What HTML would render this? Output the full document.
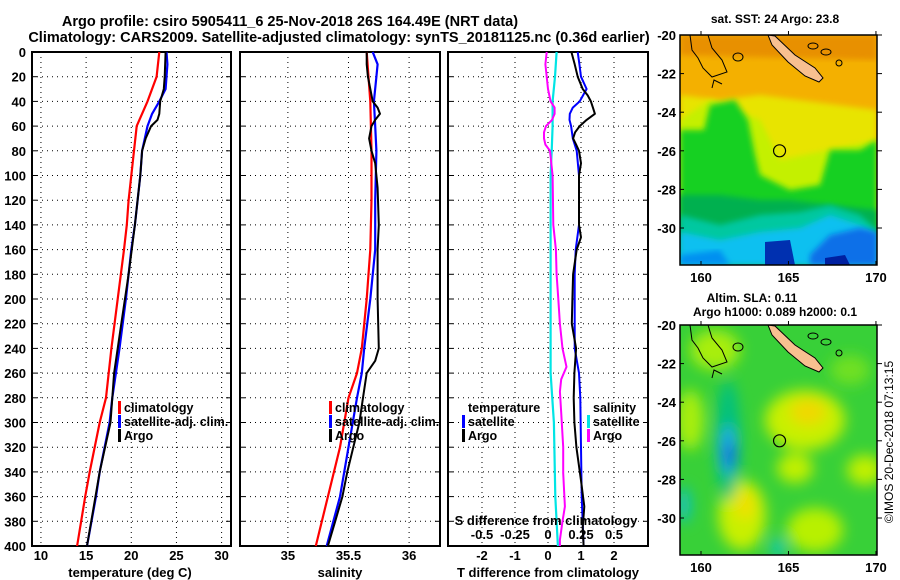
<!DOCTYPE html>
<html><head><meta charset="utf-8">
<style>
html,body{margin:0;padding:0;background:#fff;}
svg{display:block;font-family:"Liberation Sans",sans-serif;font-weight:bold;}
</style></head>
<body>
<svg id="fig" width="900" height="580" viewBox="0 0 900 580" xmlns="http://www.w3.org/2000/svg">
<defs>
<filter id="blur" x="-10%" y="-10%" width="120%" height="120%"><feGaussianBlur stdDeviation="7"/></filter>
<filter id="blur2"><feGaussianBlur stdDeviation="3"/></filter>
<clipPath id="clipTop"><rect x="680" y="35" width="197" height="230"/></clipPath>
<clipPath id="clipBot"><rect x="680" y="325" width="197" height="230"/></clipPath>
</defs>
<text x="290" y="26" font-size="14.5" text-anchor="middle">Argo profile: csiro 5905411_6 25-Nov-2018 26S 164.49E (NRT data)</text>
<text x="339" y="42" font-size="14.5" text-anchor="middle">Climatology: CARS2009. Satellite-adjusted climatology: synTS_20181125.nc (0.36d earlier)</text>
<g id="charts"></g>
<g id="maps"></g>
</svg>
<script>
// ---- data ----
const depthTicks = [0,20,40,60,80,100,120,140,160,180,200,220,240,260,280,300,320,340,360,380,400];
const tempTicks = [10,15,20,25,30];
const salTicks = [35,35.5,36];
const salTickLabels = ["35","35.5","36"];
const tdiffTicks = [-2,-1,0,1,2];
const sdiffTicks = [-0.5,-0.25,0,0.25,0.5];
const sdiffTickLabels = ["-0.5","-0.25","0","0.25","0.5"];

const tempClimDepth = [0,20,40,60,80,100,120,140,160,200,240,280,300,340,360,400];
const tempClim = [23.1,22.8,21.8,20.6,20.3,20.0,19.7,19.5,19.2,18.5,17.8,17.2,16.5,15.4,14.9,14.0];
const tempSatDepth = [0,10,30,40,50,60,80,100,120,140,160,200,240,280,300,340,360,400];
const tempSat = [23.9,24.0,23.8,23.1,22.3,21.8,21.2,21.0,20.7,20.4,20.0,19.4,18.7,17.9,17.6,16.5,16.1,15.1];
const tempArgoDepth = [0,20,30,40,50,55,60,70,80,100,140,180,220,260,300,340,400];
const tempArgo = [23.8,23.7,23.6,23.2,23.1,22.9,22.2,21.6,21.2,21.0,20.4,19.7,18.9,18.1,17.7,16.5,15.1];

const salClimDepth = [0,40,80,120,160,200,240,260,280,320,360,400];
const salClim = [35.65,35.68,35.69,35.69,35.68,35.65,35.61,35.57,35.50,35.43,35.33,35.23];
const salSatDepth = [0,10,20,40,60,80,120,160,200,240,260,280,320,360,400];
const salSat = [35.70,35.74,35.73,35.71,35.72,35.73,35.72,35.72,35.68,35.63,35.61,35.57,35.50,35.43,35.32];
const salArgoDepth = [0,10,20,30,40,45,50,55,60,70,80,90,110,140,160,200,240,250,260,280,300,320,340,360,380,400];
const salArgo = [35.65,35.65,35.66,35.68,35.70,35.74,35.76,35.72,35.69,35.67,35.69,35.72,35.74,35.75,35.74,35.74,35.75,35.72,35.65,35.62,35.59,35.54,35.49,35.45,35.39,35.33];

const tdSatDepth = [0,10,20,30,40,45,50,55,60,70,80,100,140,160,180,200,240,260,280,320,360,400];
const tdSat = [0.9,0.95,1.0,1.17,0.96,0.75,0.66,0.65,0.7,0.75,0.87,0.94,0.94,0.84,0.81,0.81,0.81,0.94,0.98,1.0,1.02,1.08];
const tdArgoDepth = [0,10,20,30,35,40,45,50,55,60,65,70,75,80,90,100,140,150,160,180,200,220,240,260,280,300,320,347,368,385,400];
const tdArgo = [0.71,0.81,0.9,1.05,1.2,1.3,1.36,1.42,1.17,0.96,0.82,0.76,0.85,0.94,1.0,0.94,0.94,1.0,0.87,0.76,0.74,0.72,0.85,0.8,0.78,0.8,0.86,1.0,1.1,1.05,1.08];
const sdSatDepth = [0,20,40,60,80,100,260,300,360,400];
const sdSat = [0.065,0.053,0.035,0.035,0.028,0.02,0.02,0.045,0.055,0.075];
const sdArgoDepth = [0,10,20,30,40,45,50,55,60,65,70,75,80,100,140,160,180,200,220,240,255,265,275,292,320,341,368,380,395,400];
const sdArgo = [-0.01,-0.02,-0.01,0,0.02,0.05,0.05,0.03,-0.015,-0.03,-0.03,-0.02,0.015,0.035,0.04,0.06,0.065,0.078,0.09,0.11,0.14,0.1,0.09,0.1,0.115,0.115,0.128,0.11,0.09,0.09];

// ---- layout ----
const NS = "http://www.w3.org/2000/svg";
const top0 = 52, bot0 = 546;
function yScale(d){ return top0 + d/400*(bot0-top0); }
function lin(d0,d1,r0,r1){ return v => r0 + (v-d0)/(d1-d0)*(r1-r0); }
const xTemp = lin(9.01,31.04,32,231);
const xSal = lin(34.605,36.255,240,440);
const xTd = lin(-3.03,3.03,448,648);
const xSd = lin(-0.7575,0.7575,448,648);
const charts = document.getElementById('charts');
function mk(tag, attrs, parent){
  const e = document.createElementNS(NS, tag);
  for (const k in attrs) e.setAttribute(k, attrs[k]);
  (parent||charts).appendChild(e);
  return e;
}
function txt(s, x, y, size, anchor, name){
  const t = mk('text', {x:x, y:y, 'font-size':size, 'text-anchor':anchor||'middle'});
  t.textContent = s;
  
  
  return t;
}
function panel(x0,x1,xTicks,xs,name){
  const g = mk('g',{});
  
  
  depthTicks.forEach(d=>{ if(d>0&&d<400){ const l=mk('line',{x1:x0,x2:x1,y1:yScale(d),y2:yScale(d),stroke:'#000','stroke-width':1,'stroke-dasharray':'1,4'},g);
     
    mk('line',{x1:x0,x2:x0+5,y1:yScale(d),y2:yScale(d),stroke:'#000'},g); mk('line',{x1:x1-5,x2:x1,y1:yScale(d),y2:yScale(d),stroke:'#000'},g);} });
  xTicks.forEach(v=>{ const l=mk('line',{x1:xs(v),x2:xs(v),y1:top0,y2:bot0,stroke:'#000','stroke-width':1,'stroke-dasharray':'1,4'},g);
      });
  const r = mk('rect',{x:x0,y:top0,width:x1-x0,height:bot0-top0,fill:'none',stroke:'#000','stroke-width':2},g);
   
  return g;
}
function line(depths, vals, xs, color, w, name){
  const pts = depths.map((d,i)=> xs(vals[i]).toFixed(1)+','+yScale(d).toFixed(1)).join(' ');
  const p = mk('polyline',{points:pts,fill:'none',stroke:color,'stroke-width':w,'stroke-linejoin':'round'});
  
  
}
function legendItem(x,y,color,label,name,barLeft){
  const b = mk('rect',{x:barLeft?x:x-6,y:y-11,width:3,height:13,fill:color});
  
  
  txt(label, barLeft?x+6:x, y, 12.5, 'start', name);
}

// Panel 1 temperature
panel(32,231,tempTicks,xTemp,'temperature-panel');
depthTicks.forEach(d=> txt(String(d), 26, yScale(d)+5, 13, 'end', 'y-tick-label'));
tempTicks.forEach(v=> txt(String(v), xTemp(v), 560, 13, 'middle', 'temp-x-tick-label'));
txt('temperature (deg C)', 130, 577, 13, 'middle', 'temp-x-axis-title');
line(tempClimDepth,tempClim,xTemp,'#ff0000',2.2,'temp-climatology-line');
line(tempSatDepth,tempSat,xTemp,'#0000ff',2.2,'temp-satellite-line');
line(tempArgoDepth,tempArgo,xTemp,'#000000',2,'temp-argo-line');
legendItem(124,412,'#ff0000','climatology','legend-climatology');
legendItem(124,426,'#0000ff','satellite-adj. clim.','legend-satellite-adj');
legendItem(124,440,'#000000','Argo','legend-argo');

// Panel 2 salinity
panel(240,440,salTicks,xSal,'salinity-panel');
salTicks.forEach((v,i)=> txt(salTickLabels[i], xSal(v), 560, 13, 'middle', 'sal-x-tick-label'));
txt('salinity', 340, 577, 13, 'middle', 'sal-x-axis-title');
line(salClimDepth,salClim,xSal,'#ff0000',2.2,'sal-climatology-line');
line(salSatDepth,salSat,xSal,'#0000ff',2.2,'sal-satellite-line');
line(salArgoDepth,salArgo,xSal,'#000000',2,'sal-argo-line');
legendItem(335,412,'#ff0000','climatology','legend2-climatology');
legendItem(335,426,'#0000ff','satellite-adj. clim.','legend2-satellite-adj');
legendItem(335,440,'#000000','Argo','legend2-argo');

// Panel 3 differences
panel(448,648,tdiffTicks,xTd,'difference-panel');
tdiffTicks.forEach(v=> txt(String(v), xTd(v), 560, 13, 'middle', 't-diff-tick-label'));
txt('T difference from climatology', 548, 577, 13, 'middle', 't-diff-axis-title');
line(sdSatDepth,sdSat,xSd,'#00e5e5',2.2,'s-diff-satellite-line');
line(sdArgoDepth,sdArgo,xSd,'#ff00ff',2,'s-diff-argo-line');
line(tdSatDepth,tdSat,xTd,'#0000ff',2,'t-diff-satellite-line');
line(tdArgoDepth,tdArgo,xTd,'#000000',2,'t-diff-argo-line');
txt('temperature', 468, 412, 12.5, 'start', 'legend3-temperature-heading');
legendItem(468,426,'#0000ff','satellite','legend3-t-satellite');
legendItem(468,440,'#000000','Argo','legend3-t-argo');
txt('salinity', 593, 412, 12.5, 'start', 'legend3-salinity-heading');
legendItem(587,426,'#00e5e5','satellite','legend3-s-satellite',true);
legendItem(587,440,'#ff00ff','Argo','legend3-s-argo',true);
txt('S difference from climatology', 546, 525, 13, 'middle', 's-diff-axis-title');
sdiffTicks.forEach((v,i)=> txt(sdiffTickLabels[i], xSd(v), 539, 13, 'middle', 's-diff-tick-label'));

// ---- maps ----
const maps = document.getElementById('maps');
const lonTicks = [160,165,170];
const latTicks = [-20,-22,-24,-26,-28,-30];
const mLon = lin(158.8,170.06,680,877);
function mapFrame(y0, name){
  const yLat = lat => y0 + (-20-lat)*19.3;
  latTicks.forEach(l=>{ txt(String(l), 676, yLat(l)+5, 13, 'end', name+'-lat-label');
    mk('line',{x1:877,x2:882,y1:yLat(l),y2:yLat(l),stroke:'#000'},maps);
    mk('line',{x1:680,x2:684,y1:yLat(l),y2:yLat(l),stroke:'#000'},maps); });
  lonTicks.forEach(l=>{ txt(String(l), mLon(l), y0+247, 13, 'middle', name+'-lon-label');
    mk('line',{x1:mLon(l),x2:mLon(l),y1:y0-4,y2:y0,stroke:'#000'},maps);
    mk('line',{x1:mLon(l),x2:mLon(l),y1:y0+230,y2:y0+226,stroke:'#000'},maps); });
  const r = mk('rect',{x:680,y:y0,width:197,height:230,fill:'none',stroke:'#000','stroke-width':1.5},maps);
   
}
function blob(g, pts, fill, filt){ const p=mk('polygon',{points:pts,fill:fill},g); if(filt) p.setAttribute('filter',filt); return p; }
function ellipse(g,cx,cy,rx,ry,fill){ return mk('ellipse',{cx:cx,cy:cy,rx:rx,ry:ry,fill:fill},g); }
function island(g, dy){
  const p = mk('polygon',{points:`768,${35+dy} 775,${36+dy} 795,${55+dy} 815,${68+dy} 823,${78+dy} 819,${82+dy} 805,${76+dy} 788,${62+dy} 772,${45+dy}`,fill:'#f8c090',stroke:'#000','stroke-width':1},g);
   
  mk('polyline',{points:`708,${35+dy} 712,${48+dy} 722,${60+dy} 727,${72+dy} 712,${77+dy} 703,${68+dy} 698,${58+dy} 692,${50+dy} 690,${35+dy}`,fill:'none',stroke:'#000','stroke-width':1},g);
  mk('polyline',{points:`712,${88+dy} 714,${80+dy} 722,${84+dy}`,fill:'none',stroke:'#000','stroke-width':1},g);
  mk('ellipse',{cx:738,cy:57+dy,rx:5,ry:4,fill:'none',stroke:'#000'},g);
  mk('ellipse',{cx:813,cy:46+dy,rx:5,ry:3,fill:'none',stroke:'#000'},g);
  mk('ellipse',{cx:826,cy:52+dy,rx:5,ry:3,fill:'none',stroke:'#000'},g);
  mk('ellipse',{cx:839,cy:63+dy,rx:3,ry:3,fill:'none',stroke:'#000'},g);
}
// SST map
const gT = mk('g',{'clip-path':'url(#clipTop)'},maps);
 
mk('rect',{x:680,y:35,width:197,height:230,fill:'#f4b000'},gT);
blob(gT,'680,35 877,35 877,60 680,55','#e89000','url(#blur2)');
blob(gT,'680,95 720,100 760,95 877,110 877,265 680,265','#e8e400','url(#blur2)');
blob(gT,'680,120 710,100 760,120 780,160 877,140 877,265 680,265','#c4f000','url(#blur2)');
blob(gT,'680,130 704,130 710,105 735,100 748,120 755,155 760,175 790,190 820,185 830,150 860,150 877,140 877,265 680,265','#18d020','url(#blur2)');
blob(gT,'680,195 720,195 760,200 790,200 830,205 877,210 877,265 680,265','#00b050','url(#blur2)');
blob(gT,'680,215 720,225 760,215 800,212 830,205 860,215 877,230 877,265 680,265','#00c8a0','url(#blur2)');
blob(gT,'680,232 720,240 760,232 800,228 830,215 860,225 877,235 877,265 680,265','#10c0f0','url(#blur2)');
blob(gT,'810,255 830,235 860,228 877,232 877,265 810,265','#1070e8','url(#blur2)');
blob(gT,'765,242 790,240 795,265 765,265','#0030b0',null);
blob(gT,'825,258 845,255 850,265 825,265','#0020a0',null);
blob(gT,'680,255 720,250 730,265 680,265','#0090f0','url(#blur2)');
island(gT,0);
const c1 = mk('circle',{cx:mLon(164.49),cy:35+6*19.3,r:6,fill:'none',stroke:'#000','stroke-width':1.2},maps);
 
mapFrame(35,'sst-map');
txt('sat. SST: 24 Argo: 23.8', 775, 23, 12, 'middle', 'sst-map-title');

// SLA map
const gS = mk('g',{'clip-path':'url(#clipBot)'},maps);
 
mk('rect',{x:680,y:325,width:197,height:230,fill:'#38d038'},gS);
const gSb = mk('g',{filter:'url(#blur)'},gS);
ellipse(gSb,715,350,25,20,'#a8ee10');
ellipse(gSb,690,420,14,30,'#a8ee10');
ellipse(gSb,805,420,40,30,'#c8f000');
ellipse(gSb,808,412,18,13,'#f0d800');
ellipse(gSb,795,468,18,15,'#c0f000');
ellipse(gSb,742,515,24,35,'#c8f000');
ellipse(gSb,745,505,10,15,'#f0e000');
ellipse(gSb,815,530,28,22,'#b8f000');
ellipse(gSb,865,470,18,15,'#c0f000');
ellipse(gSb,850,370,20,15,'#70e020');
ellipse(gSb,728,440,12,60,'#00c080');
ellipse(gSb,728,450,8,25,'#20a8f0');
ellipse(gSb,730,455,5,12,'#1050e0');
ellipse(gSb,684,505,6,18,'#10c0d0');
ellipse(gSb,778,548,8,10,'#10c8b0');
island(gS,290);
const c2 = mk('circle',{cx:mLon(164.49),cy:325+6*19.3,r:6,fill:'none',stroke:'#000','stroke-width':1.2},maps);
 
mapFrame(325,'sla-map');
txt('Altim. SLA: 0.11', 752, 302, 12, 'middle', 'sla-map-title');
txt('Argo h1000: 0.089 h2000: 0.1', 775, 316, 12, 'middle', 'sla-map-subtitle');
const cp = txt('©IMOS 20-Dec-2018 07:13:15', 0, 0, 12, 'middle', 'copyright-label');
cp.setAttribute('font-weight','normal');
cp.setAttribute('transform','translate(893,442) rotate(-90)');
</script>
</body></html>
